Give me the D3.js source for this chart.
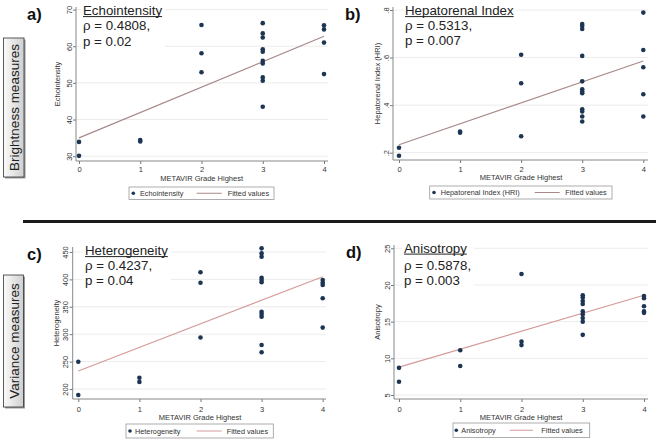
<!DOCTYPE html>
<html><head><meta charset="utf-8">
<script src="https://cdn.jsdelivr.net/npm/d3@7"></script>
<style>body{margin:0;background:#fff}svg{display:block;font-family:"Liberation Sans",Arial,sans-serif}</style>
</head><body><svg id="c" width="656" height="439"></svg>
<script>
// ---------- data ----------
const gradeTicks = [0, 1, 2, 3, 4];

const echoGrade = [0,0,1,1,2,2,2,3,3,3,3,3,3,3,3,3,3,4,4,4,4];
const echoVal   = [33.9,30.1,34.4,34.0,65.8,58.1,52.9,66.3,63.5,62.4,59.2,58.5,56.0,55.3,51.5,50.6,43.5,65.7,64.6,61.0,52.4];
const echoFit   = [35.0, 62.7];
const echoTicks = [30, 40, 50, 60, 70];

const hriGrade = [0,0,1,1,2,2,2,3,3,3,3,3,3,3,3,3,3,3,3,4,4,4,4,4];
const hriVal   = [0.221,0.187,0.289,0.284,0.612,0.492,0.269,0.741,0.733,0.720,0.607,0.500,0.467,0.457,0.450,0.383,0.373,0.352,0.331,0.789,0.632,0.559,0.446,0.352];
const hriFit   = [0.233, 0.586];
const hriTicks = [0.2, 0.4, 0.6, 0.8];
const hriTickLabels = [".2", ".4", ".6", ".8"];

const hetGrade = [0,0,1,1,2,2,2,3,3,3,3,3,3,3,3,3,3,3,4,4,4,4,4];
const hetVal   = [249.8,189,220.6,213,413,394,294,456.7,447.6,441.5,403,399,394.7,341,336.9,332,280.3,267,399,394,390,365.5,312];
const hetFit   = [232.8, 405];
const hetTicks = [200, 250, 300, 350, 400, 450];

const aniGrade = [0,0,1,1,2,2,2,3,3,3,3,3,3,3,3,3,4,4,4,4,4];
const aniVal   = [8.7,6.8,11.1,8.95,21.5,12.3,11.8,18.6,18.3,17.8,17.4,16.4,16.0,15.5,15.0,13.2,18.5,18.2,17.1,16.4,16.2];
const aniFit   = [8.8, 18.6];
const aniTicks = [5, 10, 15, 20, 25];

const panelLetters = ["a)", "b)", "c)", "d)"];
const measureTitles = ["Echointensity", "Hepatorenal Index", "Heterogeneity", "Anisotropy"];
const rhoTexts = ["ρ = 0.4808,", "ρ = 0.5313,", "ρ = 0.4237,", "ρ = 0.5878,"];
const pTexts = ["p = 0.02", "p = 0.007", "p = 0.04", "p = 0.003"];
const yTitles = ["Echointensity", "Hepatorenal Index (HRI)", "Heterogeneity", "Anisotropy"];
const legendNames = ["Echointensity", "Hepatorenal Index (HRI)", "Heterogeneity", "Anisotropy"];
const xTitle = "METAVIR Grade Highest";
const fitLabel = "Fitted values";
const groupLabels = ["Brightness measures", "Variance measures"];

// ---------- layout ----------
const svg = d3.select("#c");
const defs = svg.append("defs");
const grad = defs.append("linearGradient").attr("id", "boxg").attr("x1", 0).attr("x2", 1).attr("y1", 0).attr("y2", 0);
grad.append("stop").attr("offset", "0%").attr("stop-color", "#fbfbfb");
grad.append("stop").attr("offset", "100%").attr("stop-color", "#cfcfcf");

const dotColor = "#1c3553";
const panels = [
  {g: echoGrade, v: echoVal, fit: echoFit, ticks: echoTicks, fmt: d => d, fitColor: "#a88888",
   L: {x0: 79, x4: 324, yLo: 156.2, yHi: 9.6, axX: 76, axY: 161, right: 328, top: 7,
       lab: [27, 20], st: [83, 15, 30, 45.5], yt: 60, xtY: 172, xttY: 180.5, xtC: 201.7,
       lg: {x: 129, y: 187, w: 145, h: 12.5, dot: 133.3, tx: 140, l1: 196.7, l2: 221.7, ft: 227.7}}},
  {g: hriGrade, v: hriVal, fit: hriFit, ticks: hriTicks, fmt: (d, i) => hriTickLabels[i], fitColor: "#a88888",
   L: {x0: 399, x4: 643.3, yLo: 152.7, yHi: 10, axX: 393, axY: 160, right: 648, top: 7,
       lab: [345, 20], st: [405, 15, 30, 45], yt: 380, xtY: 171.7, xttY: 179.5, xtC: 521,
       lg: {x: 429.7, y: 186, w: 182.3, h: 13, dot: 434, tx: 440.7, l1: 534.7, l2: 559.7, ft: 565.3}}},
  {g: hetGrade, v: hetVal, fit: hetFit, ticks: hetTicks, fmt: d => d, fitColor: "#d49a9a",
   L: {x0: 78.3, x4: 322.7, yLo: 389, yHi: 252, axX: 72.7, axY: 399, right: 326, top: 247,
       lab: [27, 260], st: [85, 255, 270, 285], yt: 59, xtY: 411.5, xttY: 419.5, xtC: 200,
       lg: {x: 126, y: 424, w: 147.3, h: 14, dot: 130, tx: 135, l1: 196.7, l2: 221.7, ft: 226.7}}},
  {g: aniGrade, v: aniVal, fit: aniFit, ticks: aniTicks, fmt: d => d, fitColor: "#d49a9a",
   L: {x0: 399, x4: 644, yLo: 395, yHi: 248.3, axX: 394, axY: 399, right: 648, top: 245,
       lab: [346, 258], st: [404, 252.5, 270, 284.5], yt: 380, xtY: 411.5, xttY: 419.5, xtC: 521,
       lg: {x: 453, y: 423, w: 136.7, h: 14.5, dot: 456.3, tx: 461.3, l1: 509.7, l2: 533, ft: 541.3}}}
];

panels.forEach((P, i) => {
  const L = P.L;
  const x = d3.scaleLinear().domain([0, 4]).range([L.x0, L.x4]);
  const y = d3.scaleLinear().domain([P.ticks[0], P.ticks[P.ticks.length - 1]]).range([L.yLo, L.yHi]);
  const g = svg.append("g");

  // grid lines
  g.selectAll("line.grid").data(P.ticks).join("line")
    .attr("x1", L.axX).attr("x2", L.right)
    .attr("y1", d => y(d)).attr("y2", d => y(d))
    .attr("stroke", "#ececec").attr("stroke-width", 1);

  // y axis
  const yAxis = d3.axisLeft(y).tickValues(P.ticks).tickSize(3).tickPadding(0).tickFormat(P.fmt);
  const ya = g.append("g").attr("transform", `translate(${L.axX},0)`).call(yAxis);
  ya.select(".domain").remove();
  ya.selectAll(".tick line").attr("stroke", "#777");
  ya.selectAll(".tick text").attr("x", null).attr("dy", null)
    .attr("transform", "translate(-4.5,0) rotate(-90)")
    .attr("text-anchor", "middle").attr("y", 0)
    .attr("font-size", 7.5).attr("fill", "#333").attr("font-family", "Liberation Sans, Arial, sans-serif");
  g.append("line").attr("x1", L.axX).attr("x2", L.axX).attr("y1", L.axY).attr("y2", L.top)
    .attr("stroke", "#888").attr("stroke-width", 1);

  // x axis
  const xAxis = d3.axisBottom(x).tickValues(gradeTicks).tickSize(3).tickFormat(d3.format("d"));
  const xa = g.append("g").attr("transform", `translate(0,${L.axY})`).call(xAxis);
  xa.select(".domain").remove();
  xa.selectAll(".tick line").attr("stroke", "#777");
  xa.selectAll(".tick text").attr("dy", null).attr("y", L.xtY - L.axY)
    .attr("font-size", 7.5).attr("fill", "#333").attr("font-family", "Liberation Sans, Arial, sans-serif");
  g.append("line").attr("x1", L.axX).attr("x2", L.right).attr("y1", L.axY).attr("y2", L.axY)
    .attr("stroke", "#888").attr("stroke-width", 1);

  // axis titles
  g.append("text").attr("x", L.xtC).attr("y", L.xttY).attr("text-anchor", "middle")
    .attr("font-size", 7.5).attr("fill", "#333").text(xTitle);
  g.append("text").attr("transform", `translate(${L.yt},${(L.axY + L.top) / 2}) rotate(-90)`)
    .attr("text-anchor", "middle").attr("font-size", 7.5).attr("fill", "#333").text(yTitles[i]);

  // fitted line
  g.append("line").attr("x1", x(0)).attr("x2", x(4)).attr("y1", y(P.fit[0])).attr("y2", y(P.fit[1]))
    .attr("stroke", P.fitColor).attr("stroke-width", 1.1);

  // points
  g.selectAll("circle.pt").data(P.v).join("circle")
    .attr("cx", (d, j) => x(P.g[j])).attr("cy", d => y(d)).attr("r", 2.3)
    .attr("fill", dotColor);

  // stats text with white background
  const sg = g.append("g");
  const bg = sg.append("rect").attr("fill", "#fff");
  const t1 = sg.append("text").attr("x", L.st[0]).attr("y", L.st[1]).attr("font-size", 13.3).attr("fill", "#222").text(measureTitles[i]);
  const t2 = sg.append("text").attr("x", L.st[0]).attr("y", L.st[2]).attr("font-size", 13.3).attr("fill", "#222").text(rhoTexts[i]);
  sg.append("text").attr("x", L.st[0]).attr("y", L.st[3]).attr("font-size", 13.3).attr("fill", "#222").text(pTexts[i]);
  const w1 = t1.node().getComputedTextLength();
  const w2 = t2.node().getComputedTextLength();
  sg.append("line").attr("x1", L.st[0]).attr("x2", L.st[0] + w1).attr("y1", L.st[1] + 1.6).attr("y2", L.st[1] + 1.6)
    .attr("stroke", "#222").attr("stroke-width", 1);
  bg.attr("x", L.st[0] - 2).attr("y", L.st[1] - 11).attr("width", Math.max(w1, w2) + 5).attr("height", L.st[3] - L.st[1] + 15);

  // panel letter
  g.append("text").attr("x", L.lab[0]).attr("y", L.lab[1]).attr("font-size", 16.5).attr("font-weight", "bold")
    .attr("fill", "#111").text(panelLetters[i]);

  // legend
  const lg = L.lg;
  const cy = lg.y + lg.h / 2;
  g.append("rect").attr("x", lg.x).attr("y", lg.y).attr("width", lg.w).attr("height", lg.h)
    .attr("fill", "#fff").attr("stroke", "#999").attr("stroke-width", 0.8);
  g.append("circle").attr("cx", lg.dot).attr("cy", cy).attr("r", 1.8).attr("fill", dotColor);
  g.append("text").attr("x", lg.tx).attr("y", cy + 2.6).attr("font-size", 7.3).attr("fill", "#333").text(legendNames[i]);
  g.append("line").attr("x1", lg.l1).attr("x2", lg.l2).attr("y1", cy).attr("y2", cy)
    .attr("stroke", P.fitColor).attr("stroke-width", 1);
  g.append("text").attr("x", lg.ft).attr("y", cy + 2.6).attr("font-size", 7.3).attr("fill", "#333").text(fitLabel);
});

// divider
svg.append("rect").attr("x", 23).attr("y", 220).attr("width", 633).attr("height", 3).attr("fill", "#1a1a1a");

// group label boxes
const boxes = [{x: 3.5, y: 38, w: 20.5, h: 139}, {x: 3.5, y: 275, w: 20, h: 132}];
boxes.forEach((b, i) => {
  svg.append("rect").attr("x", b.x + 1.5).attr("y", b.y + 1.5).attr("width", b.w).attr("height", b.h).attr("fill", "#999");
  svg.append("rect").attr("x", b.x).attr("y", b.y).attr("width", b.w).attr("height", b.h)
    .attr("fill", "url(#boxg)").attr("stroke", "#333").attr("stroke-width", 0.8);
  svg.append("text").attr("transform", `translate(${b.x + b.w / 2 + 5},${b.y + b.h / 2}) rotate(-90)`)
    .attr("text-anchor", "middle").attr("font-size", 13.5).attr("fill", "#222").text(groupLabels[i]);
});
</script></body></html>
